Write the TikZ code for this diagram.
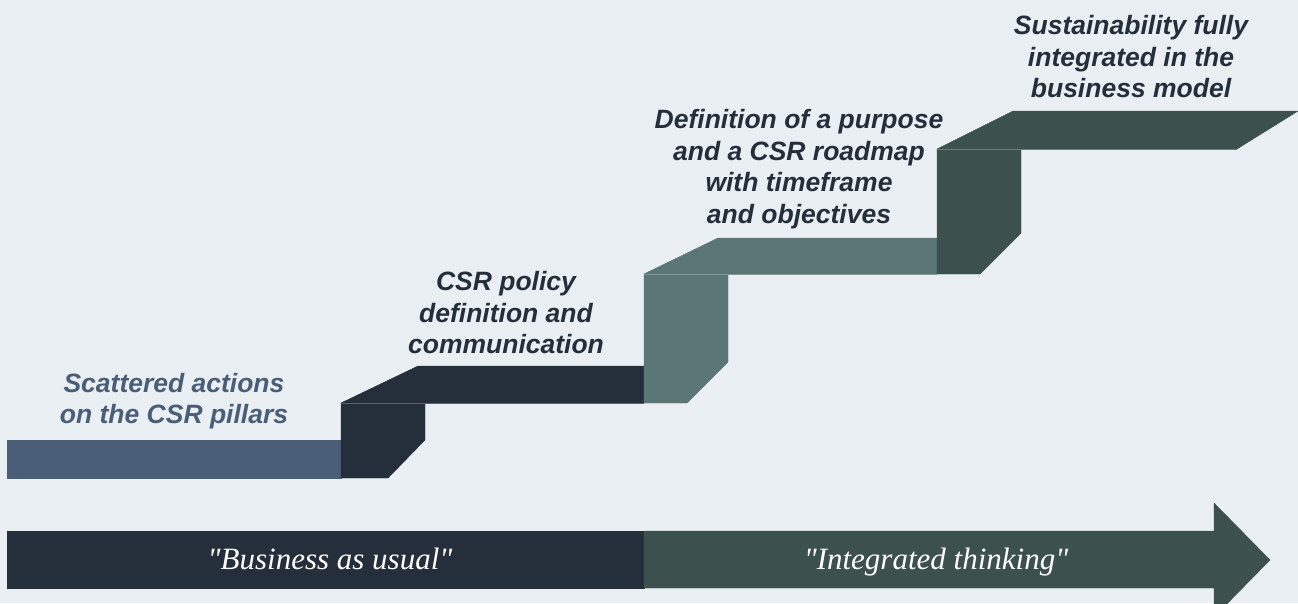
\documentclass[tikz,border=0pt]{standalone}
\usepackage{fontspec}
\setmainfont{Liberation Sans}
\newfontfamily\quotefont{Liberation Serif}
\usetikzlibrary{positioning}
\definecolor{cback}{HTML}{EAEFF3}
\definecolor{cslate}{HTML}{4A5F77}
\definecolor{cnavy}{HTML}{252F3B}
\definecolor{cteal}{HTML}{5A7775}
\definecolor{cpine}{HTML}{3C504E}
\tikzset{
  every picture/.style={x=1pt, y=-1pt},
  face/.style={fill=#1, draw=#1, line width=0.4pt, line join=miter},
  edge/.style={draw=#1!75!white, line width=0.8pt},
  stage/.style={font=\bfseries\itshape\fontsize{26.5}{31.5}\selectfont, text=#1, align=center, inner sep=0pt},
  stage/.default=cnavy,
  motto/.style={font=\quotefont\itshape\fontsize{31}{36}\selectfont, text=white, inner sep=0pt, anchor=base},
}

\begin{document}
\begin{tikzpicture}
  \fill[cback] (0,0) rectangle (1298,603);
  \useasboundingbox (0,0) rectangle (1298,603);
  % the stairs
  \fill[face=cslate] (7,440) rectangle (341,478);
  \fill[face=cnavy] (341,403) -- (425,403) -- (425,440) -- (388,478) -- (341,478) -- cycle;
  \fill[face=cnavy] (341,403) -- (418,366) -- (644,366) -- (644,403) -- cycle;
  \fill[face=cteal] (644,274) -- (728,274) -- (728,362) -- (687,403) -- (644,403) -- cycle;
  \fill[face=cteal] (644,274) -- (718,238) -- (937,238) -- (937,274) -- cycle;
  \fill[face=cpine] (937,149) -- (1021,149) -- (1021,233) -- (980,274) -- (937,274) -- cycle;
  \fill[face=cpine] (937,149) -- (1013,111) -- (1298,111) -- (1237,149) -- cycle;
  \draw[edge=cnavy] (341,403) -- (644,403);
  \draw[edge=cteal] (644,274) -- (937,274);
  \draw[edge=cpine] (937,149) -- (1237,149);
  % the band below
  \fill[face=cnavy] (7,531) rectangle (644,588);
  \fill[face=cpine] (644,531) -- (1214,531) -- (1214,503) -- (1270,560) -- (1214,617)
     -- (1214,588) -- (644,588) -- cycle;
  \node[motto] (usual) at (330,569) {"Business as usual"};
  \node[motto] (thinking) at (936,569) {"Integrated thinking"};
  % stage labels
  \node[stage=cslate] (scattered) at (174,401) {Scattered actions\\on the CSR pillars};
  \node[stage] (policy) at (506,313) {CSR policy\\definition and\\communication};
  \node[stage] (roadmap) at (799,169) {Definition of a purpose\\and a CSR roadmap\\with timeframe\\and objectives};
  \node[stage] (integrated) at (1131,57) {Sustainability fully\\integrated in the\\business model};
\end{tikzpicture}
\end{document}
